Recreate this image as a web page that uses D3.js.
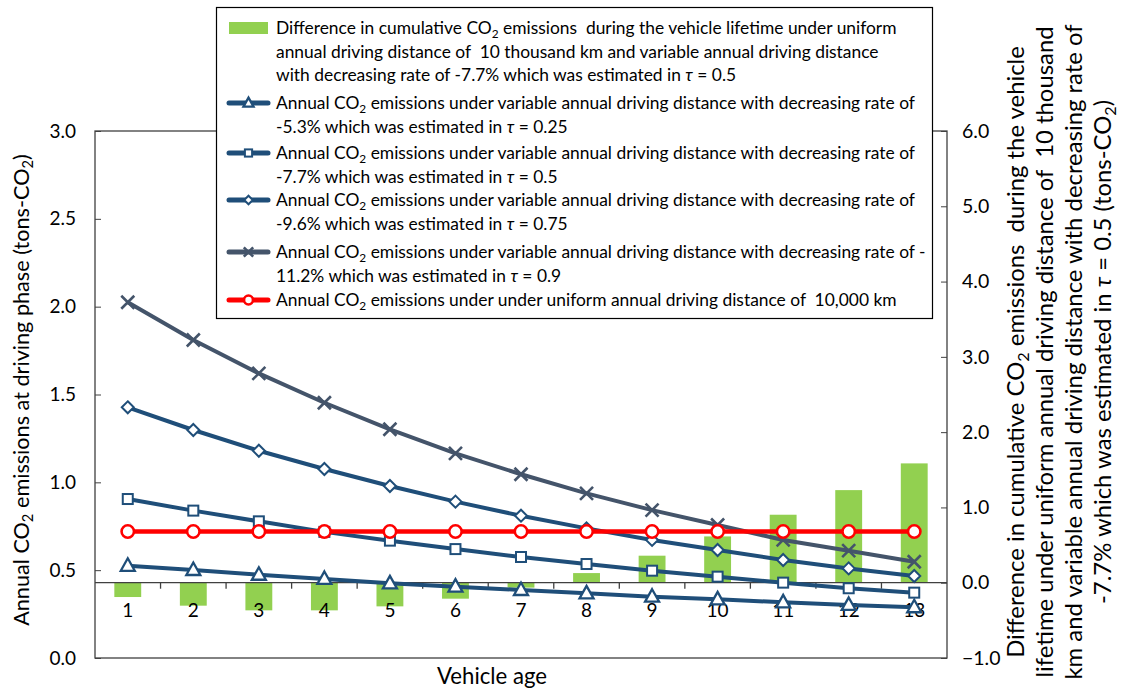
<!DOCTYPE html>
<html><head><meta charset="utf-8">
<script src="https://cdn.jsdelivr.net/npm/d3@7"></script>
<style>
body{margin:0;background:#fff;}
text{font-family:Lato,"Open Sans",sans-serif;fill:#000;white-space:pre;}
</style></head><body>
<svg id="c" width="1126" height="695"></svg>
<script>
const categories = [1,2,3,4,5,6,7,8,9,10,11,12,13];
const diffBars = [-0.19,-0.305,-0.367,-0.367,-0.314,-0.212,-0.065,0.128,0.359,0.615,0.903,1.23,1.585];
const tau025 = [0.525,0.501,0.474,0.45,0.425,0.406,0.387,0.368,0.349,0.334,0.317,0.302,0.289];
const tau05  = [0.905,0.839,0.778,0.718,0.668,0.620,0.575,0.535,0.497,0.463,0.429,0.397,0.372];
const tau075 = [1.427,1.298,1.18,1.076,0.979,0.890,0.810,0.738,0.672,0.615,0.558,0.51,0.467];
const tau09  = [2.025,1.81,1.62,1.453,1.302,1.165,1.046,0.9375,0.842,0.757,0.672,0.611,0.548];
const uniform = [0.72,0.72,0.72,0.72,0.72,0.72,0.72,0.72,0.72,0.72,0.72,0.72,0.72];
const leftTicks = [0,0.5,1.0,1.5,2.0,2.5,3.0];
const rightTicks = [-1,0,1,2,3,4,5,6];

const svg = d3.select("#c");
const L=95,R=947,T=131,B=658;
const x = d3.scaleBand().domain(categories).range([L,R]).padding(0);
const yL = d3.scaleLinear().domain([0,3]).range([B,T]);
const yR = d3.scaleLinear().domain([-1,6]).range([B,T]);
const axisColor="#404040";
const BLUE="#1F4E79", GRAY="#44546A", RED="#FF0000", GREEN="#92D050";

function rich(sel, str){
  const parts = str.split(/(CO2|τ)/);
  let sub=false;
  parts.forEach(p=>{
    if(p==="") return;
    if(p==="CO2"){
      sel.append("tspan").text("CO");
      sel.append("tspan").attr("dy","0.3em").style("font-size","0.68em").text("2");
      sub=true;
    } else {
      const t=sel.append("tspan").text(p);
      if(p==="τ") t.style("font-style","italic");
      if(sub){t.attr("dy","-0.204em");sub=false;}
    }
  });
}
function fit(sel, target){
  const len = sel.node().getComputedTextLength();
  const fs = parseFloat(sel.style("font-size"));
  return fs*target/len;
}

// bars
const bw = x.bandwidth()*0.41;
svg.append("g").selectAll("rect").data(categories).join("rect")
  .attr("x",d=>x(d)+x.bandwidth()/2-bw/2)
  .attr("y",(d,i)=>yR(Math.max(0,diffBars[i])))
  .attr("width",bw)
  .attr("height",(d,i)=>Math.abs(yR(diffBars[i])-yR(0)))
  .attr("fill",GREEN);

svg.append("rect").attr("x",L).attr("y",T).attr("width",R-L).attr("height",B-T)
  .attr("fill","none").attr("stroke",axisColor).attr("stroke-width",1.3);

const gl = svg.append("g").attr("transform",`translate(${L},0)`)
  .call(d3.axisRight(yL).tickValues(leftTicks).tickSize(6).tickFormat(d3.format(".1f")));
gl.select(".domain").remove();
gl.selectAll(".tick line").attr("stroke",axisColor);
gl.selectAll(".tick text").attr("x",-19).attr("text-anchor","end").style("font-size","19px").style("font-family","Lato").attr("fill","#000");

const gr = svg.append("g").attr("transform",`translate(${R},0)`)
  .call(d3.axisLeft(yR).tickValues(rightTicks).tickSize(6).tickFormat(d3.format(".1f")));
gr.select(".domain").remove();
gr.selectAll(".tick line").attr("stroke",axisColor);
gr.selectAll(".tick text").attr("x",15).attr("text-anchor","start").style("font-size","19.5px").style("font-family","Lato").attr("fill","#000");

const y0=yR(0);
svg.append("line").attr("x1",L).attr("x2",R).attr("y1",y0).attr("y2",y0).attr("stroke",axisColor).attr("stroke-width",1.3);
svg.append("g").selectAll("line").data(categories.slice(1)).join("line")
  .attr("x1",d=>x(d)).attr("x2",d=>x(d)).attr("y1",y0).attr("y2",y0+6).attr("stroke",axisColor).attr("stroke-width",1.3);
svg.append("g").selectAll("text").data(categories).join("text")
  .attr("x",d=>x(d)+x.bandwidth()/2).attr("y",y0+34)
  .attr("text-anchor","middle").style("font-size","19px").text(d=>d);

function marker(g, type, cx, cy, color, s){
  s = s||1;
  if(type==="tri"){
    const w=7*s,h=12.5*s;
    g.append("path").attr("d",`M${cx},${cy-h*0.6}L${cx+w},${cy+h*0.4}L${cx-w},${cy+h*0.4}Z`)
      .attr("fill","#fff").attr("stroke",color).attr("stroke-width",2.3);
  } else if(type==="sq"){
    const a=5*s;
    g.append("rect").attr("x",cx-a).attr("y",cy-a).attr("width",2*a).attr("height",2*a)
      .attr("fill","#fff").attr("stroke",color).attr("stroke-width",2);
  } else if(type==="dia"){
    const a=6*s;
    g.append("path").attr("d",`M${cx},${cy-a}L${cx+a},${cy}L${cx},${cy+a}L${cx-a},${cy}Z`)
      .attr("fill","#fff").attr("stroke",color).attr("stroke-width",2);
  } else if(type==="x"){
    const a=6.5*s;
    g.append("path").attr("d",`M${cx-a},${cy-a}L${cx+a},${cy+a}M${cx-a},${cy+a}L${cx+a},${cy-a}`)
      .attr("stroke",color).attr("stroke-width",2.6).attr("fill","none");
  } else if(type==="circ"){
    g.append("circle").attr("cx",cx).attr("cy",cy).attr("r",6.2*s)
      .attr("fill","#fff").attr("stroke",color).attr("stroke-width",2.6);
  }
}

const series = [
  {vals:tau025,color:BLUE,m:"tri",w:4},
  {vals:tau05,color:BLUE,m:"sq",w:4},
  {vals:tau075,color:BLUE,m:"dia",w:4},
  {vals:tau09,color:GRAY,m:"x",w:4},
  {vals:uniform,color:RED,m:"circ",w:4.5}
];
const line = d3.line().x((d,i)=>x(categories[i])+x.bandwidth()/2).y(d=>yL(d));
series.forEach(s=>{
  const g=svg.append("g");
  g.append("path").datum(s.vals).attr("d",line).attr("fill","none").attr("stroke",s.color).attr("stroke-width",s.w).attr("stroke-linejoin","round");
  s.vals.forEach((v,i)=>marker(g,s.m,x(categories[i])+x.bandwidth()/2,yL(v),s.color,1));
});

// axis titles
const lt = svg.append("text").attr("transform",`translate(29,390) rotate(-90)`).attr("text-anchor","middle")
  .style("font-size","20px").call(t=>rich(t,"Annual CO2 emissions at driving phase (tons-CO2)"));
lt.style("font-size", fit(lt,472)+"px");

const rtLines=["Difference in cumulative CO2 emissions  during the vehicle",
 "lifetime under uniform annual driving distance of  10 thousand",
 "km and variable annual driving distance with decreasing rate of",
 "-7.7% which was estimated in τ = 0.5 (tons-CO2)"];
const rtX=[1024,1053,1082,1111];
const rts = rtLines.map((l,i)=>svg.append("text").attr("transform",`translate(${rtX[i]},352) rotate(-90)`).attr("text-anchor","middle")
   .style("font-size","20px").call(t=>rich(t,l)));
const rfs = fit(rts[0],612);
rts.forEach(t=>t.style("font-size",rfs+"px"));

const va = svg.append("text").attr("x",492).attr("y",684).attr("text-anchor","middle").style("font-size","20px").text("Vehicle age");
va.style("font-size", fit(va,110)+"px");

// legend
const lg=svg.append("g");
lg.append("rect").attr("x",216.5).attr("y",7.5).attr("width",716).attr("height",311)
  .attr("fill","#fff").attr("stroke","#000").attr("stroke-width",1.2);
const legendEntries=[
  {type:"bar",lines:["Difference in cumulative CO2 emissions  during the vehicle lifetime under uniform","annual driving distance of  10 thousand km and variable annual driving distance","with decreasing rate of -7.7% which was estimated in τ = 0.5"],y:28},
  {type:"tri",color:BLUE,lines:["Annual CO2 emissions under variable annual driving distance with decreasing rate of","-5.3% which was estimated in τ = 0.25"],y:103},
  {type:"sq",color:BLUE,lines:["Annual CO2 emissions under variable annual driving distance with decreasing rate of","-7.7% which was estimated in τ = 0.5"],y:153},
  {type:"dia",color:BLUE,lines:["Annual CO2 emissions under variable annual driving distance with decreasing rate of","-9.6% which was estimated in τ = 0.75"],y:200},
  {type:"x",color:GRAY,lines:["Annual CO2 emissions under variable annual driving distance with decreasing rate of -","11.2% which was estimated in τ = 0.9"],y:252},
  {type:"circ",color:RED,lines:["Annual CO2 emissions under under uniform annual driving distance of  10,000 km"],y:300}
];
const legTexts=[];
legendEntries.forEach(e=>{
  if(e.type==="bar"){
    lg.append("rect").attr("x",229).attr("y",e.y-6).attr("width",39).attr("height",12).attr("fill",GREEN);
  } else {
    lg.append("line").attr("x1",229).attr("x2",268).attr("y1",e.y).attr("y2",e.y).attr("stroke",e.color).attr("stroke-width",5).attr("stroke-linecap","round");
    marker(lg,e.type,248.5,e.y,e.color,0.72);
  }
  e.lines.forEach((l,j)=>{
    legTexts.push(lg.append("text").attr("x",276).attr("y",e.y+j*23.5).attr("dy","0.35em").style("font-size","16px").call(t=>rich(t,l)));
  });
});
const lfs = fit(legTexts[0],621);
legTexts.forEach(t=>t.style("font-size",lfs+"px"));
</script></body></html>
